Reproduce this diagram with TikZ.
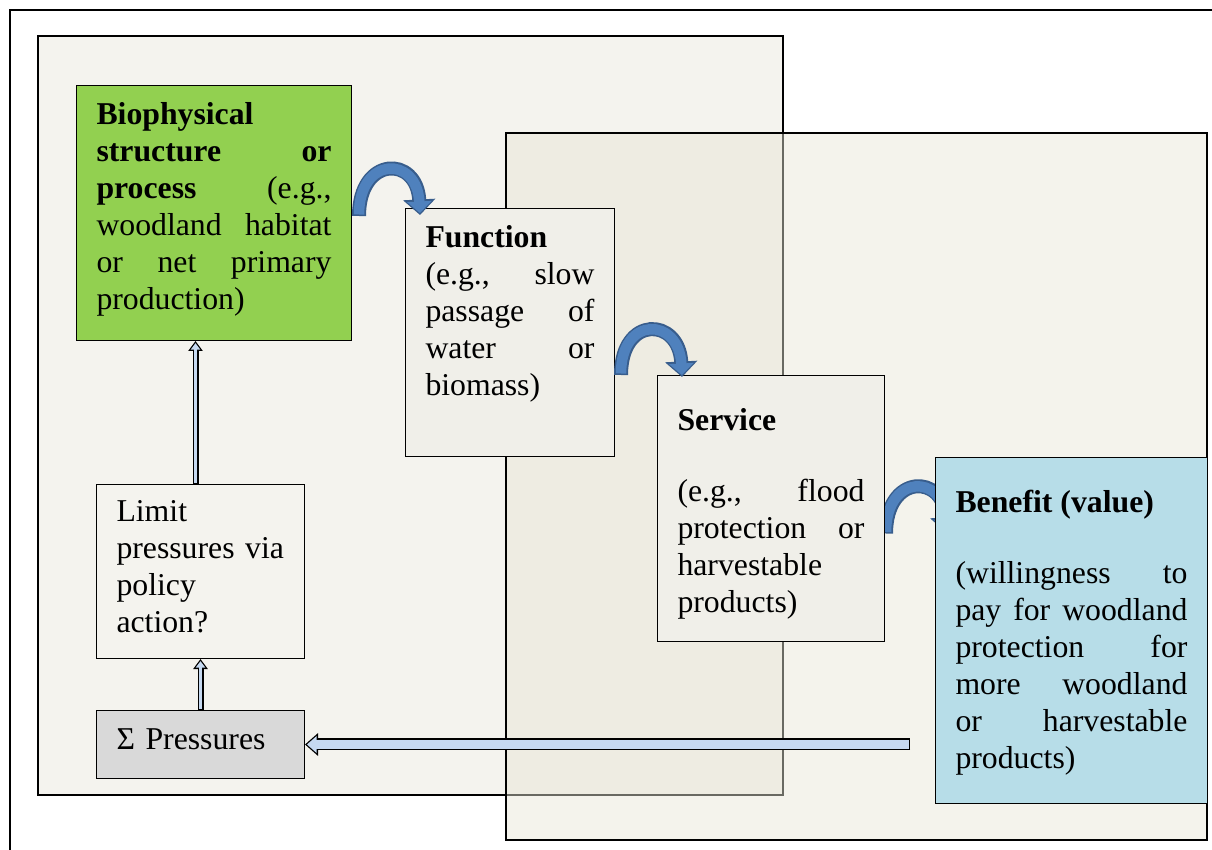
\documentclass[tikz,border=0pt]{standalone}
\usepackage{fontspec}
\setmainfont{Liberation Serif}
\usetikzlibrary{arrows.meta,calc}
\definecolor{panelc}{RGB}{244,243,238}
\definecolor{panelr}{RGB}{231,229,214}
\definecolor{boxc}{RGB}{240,239,233}
\definecolor{greenc}{RGB}{146,208,80}
\definecolor{benc}{RGB}{183,221,232}
\definecolor{pressc}{RGB}{217,217,217}
\definecolor{arrc}{RGB}{198,217,241}
\definecolor{curlc}{RGB}{79,129,189}
\definecolor{curld}{RGB}{56,93,140}
\pgfdeclarelayer{back}
\pgfdeclarelayer{under}
\pgfsetlayers{back,under,main}

\begin{document}
\begin{tikzpicture}[x=0.4pt,y=-0.4pt]
\tikzstyle{card}=[draw, anchor=north west, inner xsep=8pt, inner ysep=0pt, align=justify, font=\fontsize{12.7}{14.8}\selectfont]
\tikzstyle{curlout}=[curld, line width=5.6pt, -{Triangle[width=12.6pt,length=6.2pt]}]
\tikzstyle{curlin}=[curlc, line width=4.2pt, shorten <=0.6pt, shorten >=0.8pt, -{Triangle[width=9.6pt,length=4.6pt]}]
\tikzstyle{upout}=[black, line width=2.4pt, -{Triangle[width=5.6pt,length=4pt]}]
\tikzstyle{upin}=[arrc, line width=1.4pt, shorten <=0.5pt, shorten >=0.87pt, -{Triangle[width=3.7pt,length=2.6pt]}]
\tikzstyle{bigout}=[black, line width=4.8pt, -{Triangle[width=8.8pt,length=5.2pt]}]
\tikzstyle{bigin}=[arrc, line width=3.8pt, shorten <=0.5pt, shorten >=0.77pt, -{Triangle[width=6.6pt,length=3.9pt]}]
\useasboundingbox (0,0) rectangle (1212,850);
\begin{pgfonlayer}{back}
\draw[thick] (10,850) -- (10,10) -- (1212,10);
\draw[thick, fill=panelc] (38,36) rectangle (783,795);
\draw[thick, fill=panelr, fill opacity=0.46] (506,133) rectangle (1207,840);
\end{pgfonlayer}
\node[card, fill=greenc, text width=94pt, text height=15.6pt, text depth=86.4pt] (bio) at (76,85)
  {\textbf{Biophysical\linebreak structure or\linebreak process} (e.g.,\linebreak woodland habitat\linebreak or net primary\linebreak production)};
\node[card, fill=boxc, text width=67.6pt, text height=15.6pt, text depth=83.6pt] (func) at (405,208)
  {\textbf{Function}\linebreak (e.g., slow\linebreak passage of\linebreak water or\linebreak biomass)};
\node[card, fill=boxc, text width=74.8pt, text height=22pt, text depth=84.4pt] (serv) at (657,375)
  {\textbf{Service}\par\vspace{13.6pt}(e.g., flood\linebreak protection or\linebreak harvestable\linebreak products)};
\node[card, fill=benc, text width=92.8pt, text height=22pt, text depth=116.4pt] (ben) at (935,457)
  {\textbf{Benefit (value)}\par\vspace{13.6pt}(willingness to\linebreak pay for woodland\linebreak protection for\linebreak more woodland\linebreak or harvestable\linebreak products)};
\node[card, fill=panelc, align=left, text width=67.2pt, text height=14.8pt, text depth=54.8pt] (lim) at (96,484)
  {Limit\\ pressures via\\ policy\\ action?};
\node[card, fill=pressc, align=left, text width=67.2pt, text height=15.6pt, text depth=11.6pt] (press) at (96,710)
  {Σ Pressures};
\foreach \s in {curlout,curlin} {
  \draw[\s] ($(bio.east)+(7,3)$) .. controls +(0,-60) and +(-3,-60) .. ($(func.north west)+(15,7)$);
  \draw[\s] ($(func.east |- serv.north)+(6,0)$) .. controls +(0,-60) and +(-3,-60) .. ($(serv.north west)+(25,2)$);
}
\begin{pgfonlayer}{under}
\foreach \s in {curlout,curlin}
  \draw[\s] ($(serv.east)+(1,25)$) .. controls +(0,-60) and +(-3,-60) .. ($(ben.north west)+(12,76)$);
\end{pgfonlayer}
\foreach \s in {upout,upin} {
  \draw[\s] ([xshift=-2pt]lim.north) -- ([xshift=-2pt]lim.north |- bio.south);
  \draw[\s] (press.north) -- (lim.south);
}
\foreach \s in {bigout,bigin}
  \draw[\s] ($(ben.west |- press.east)+(-25,0)$) -- (press.east);
\end{tikzpicture}
\end{document}
